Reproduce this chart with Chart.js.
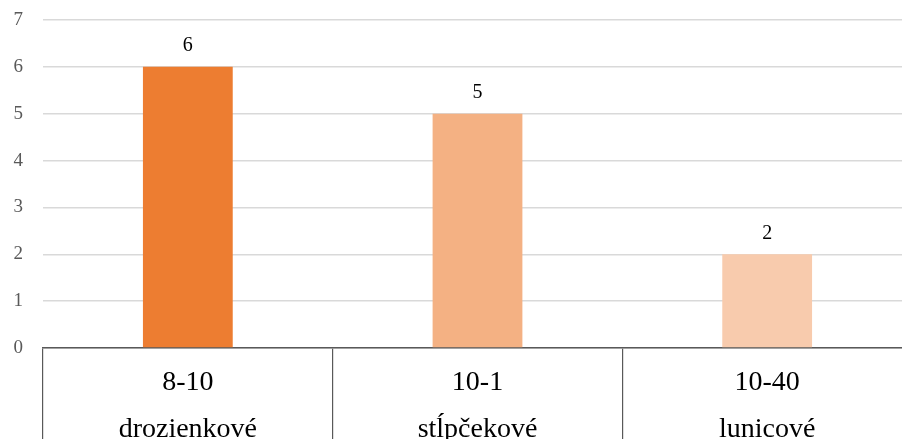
<!DOCTYPE html>
<html>
<head>
<meta charset="utf-8">
<script src="https://cdn.jsdelivr.net/npm/chart.js@4"></script>
<style>
  html, body { margin: 0; padding: 0; background: #fff; overflow: hidden; }
</style>
</head>
<body>
<canvas id="myChart" width="912" height="452"></canvas>
<script>
// data
var ranges = ["8-10", "10-1", "10-40"];
var shapes = ["drozienkové", "stĺpčekové", "lunicové"];
var counts = [6, 5, 2];
var barColors = ["rgb(237, 125, 49)", "rgb(244, 177, 131)", "rgb(248, 203, 173)"];
var yTicks = [0, 1, 2, 3, 4, 5, 6, 7];

var labels = ranges.map(function (r, i) { return [r, shapes[i]]; });

// value labels above the bars
const valueLabels = {
  id: "valueLabels",
  afterDatasetsDraw(chart) {
    var ctx = chart.ctx;
    var meta = chart.getDatasetMeta(0);
    ctx.save();
    ctx.font = "20px 'Liberation Serif'";
    ctx.fillStyle = "#000";
    ctx.textAlign = "center";
    ctx.textBaseline = "middle";
    meta.data.forEach(function (bar, i) {
      ctx.fillText(counts[i], bar.x, bar.y - 21);
    });
    ctx.restore();
  }
};

var ctx = document.getElementById("myChart").getContext("2d");

new Chart(ctx, {
  type: "bar",
  data: {
    labels: labels,
    datasets: [{
      data: counts,
      backgroundColor: barColors,
      borderWidth: 0,
      barPercentage: 0.31,
      categoryPercentage: 1,
    }],
  },
  options: {
    responsive: false,
    animation: false,
    events: [],
    layout: { padding: { top: 20, left: 0, right: 0, bottom: 0 } },
    plugins: {
      legend: { display: false },
      tooltip: { enabled: false },
    },
    scales: {
      x: {
        offset: true,
        afterFit: function (scale) { scale.height = 104; }, // table below the axis
        border: { display: true, color: "#595959", width: 1.5 },
        grid: {
          offset: true,
          drawOnChartArea: false,
          drawTicks: true,
          tickLength: 110,
          color: "#595959",
          lineWidth: 1.2,
        },
        ticks: {
          padding: -98.5,
          color: "#000",
          font: { family: "'Liberation Serif'", size: 28, lineHeight: 1.68 },
          maxRotation: 0,
          autoSkip: false,
        },
      },
      y: {
        min: 0,
        max: 7,
        afterFit: function (scale) {
          scale.width = 43;
          scale.paddingTop = 0;
          scale.paddingBottom = 0;
        },
        afterBuildTicks: function (scale) {
          scale.ticks = yTicks.map(function (v) { return { value: v }; });
        },
        border: { display: false },
        grid: { color: "#d9d9d9", lineWidth: 1.5, drawTicks: false },
        ticks: {
          padding: 20,
          color: "#595959",
          font: { family: "'Liberation Serif'", size: 19 },
        },
      },
    },
  },
  plugins: [valueLabels],
});
</script>
</body>
</html>
